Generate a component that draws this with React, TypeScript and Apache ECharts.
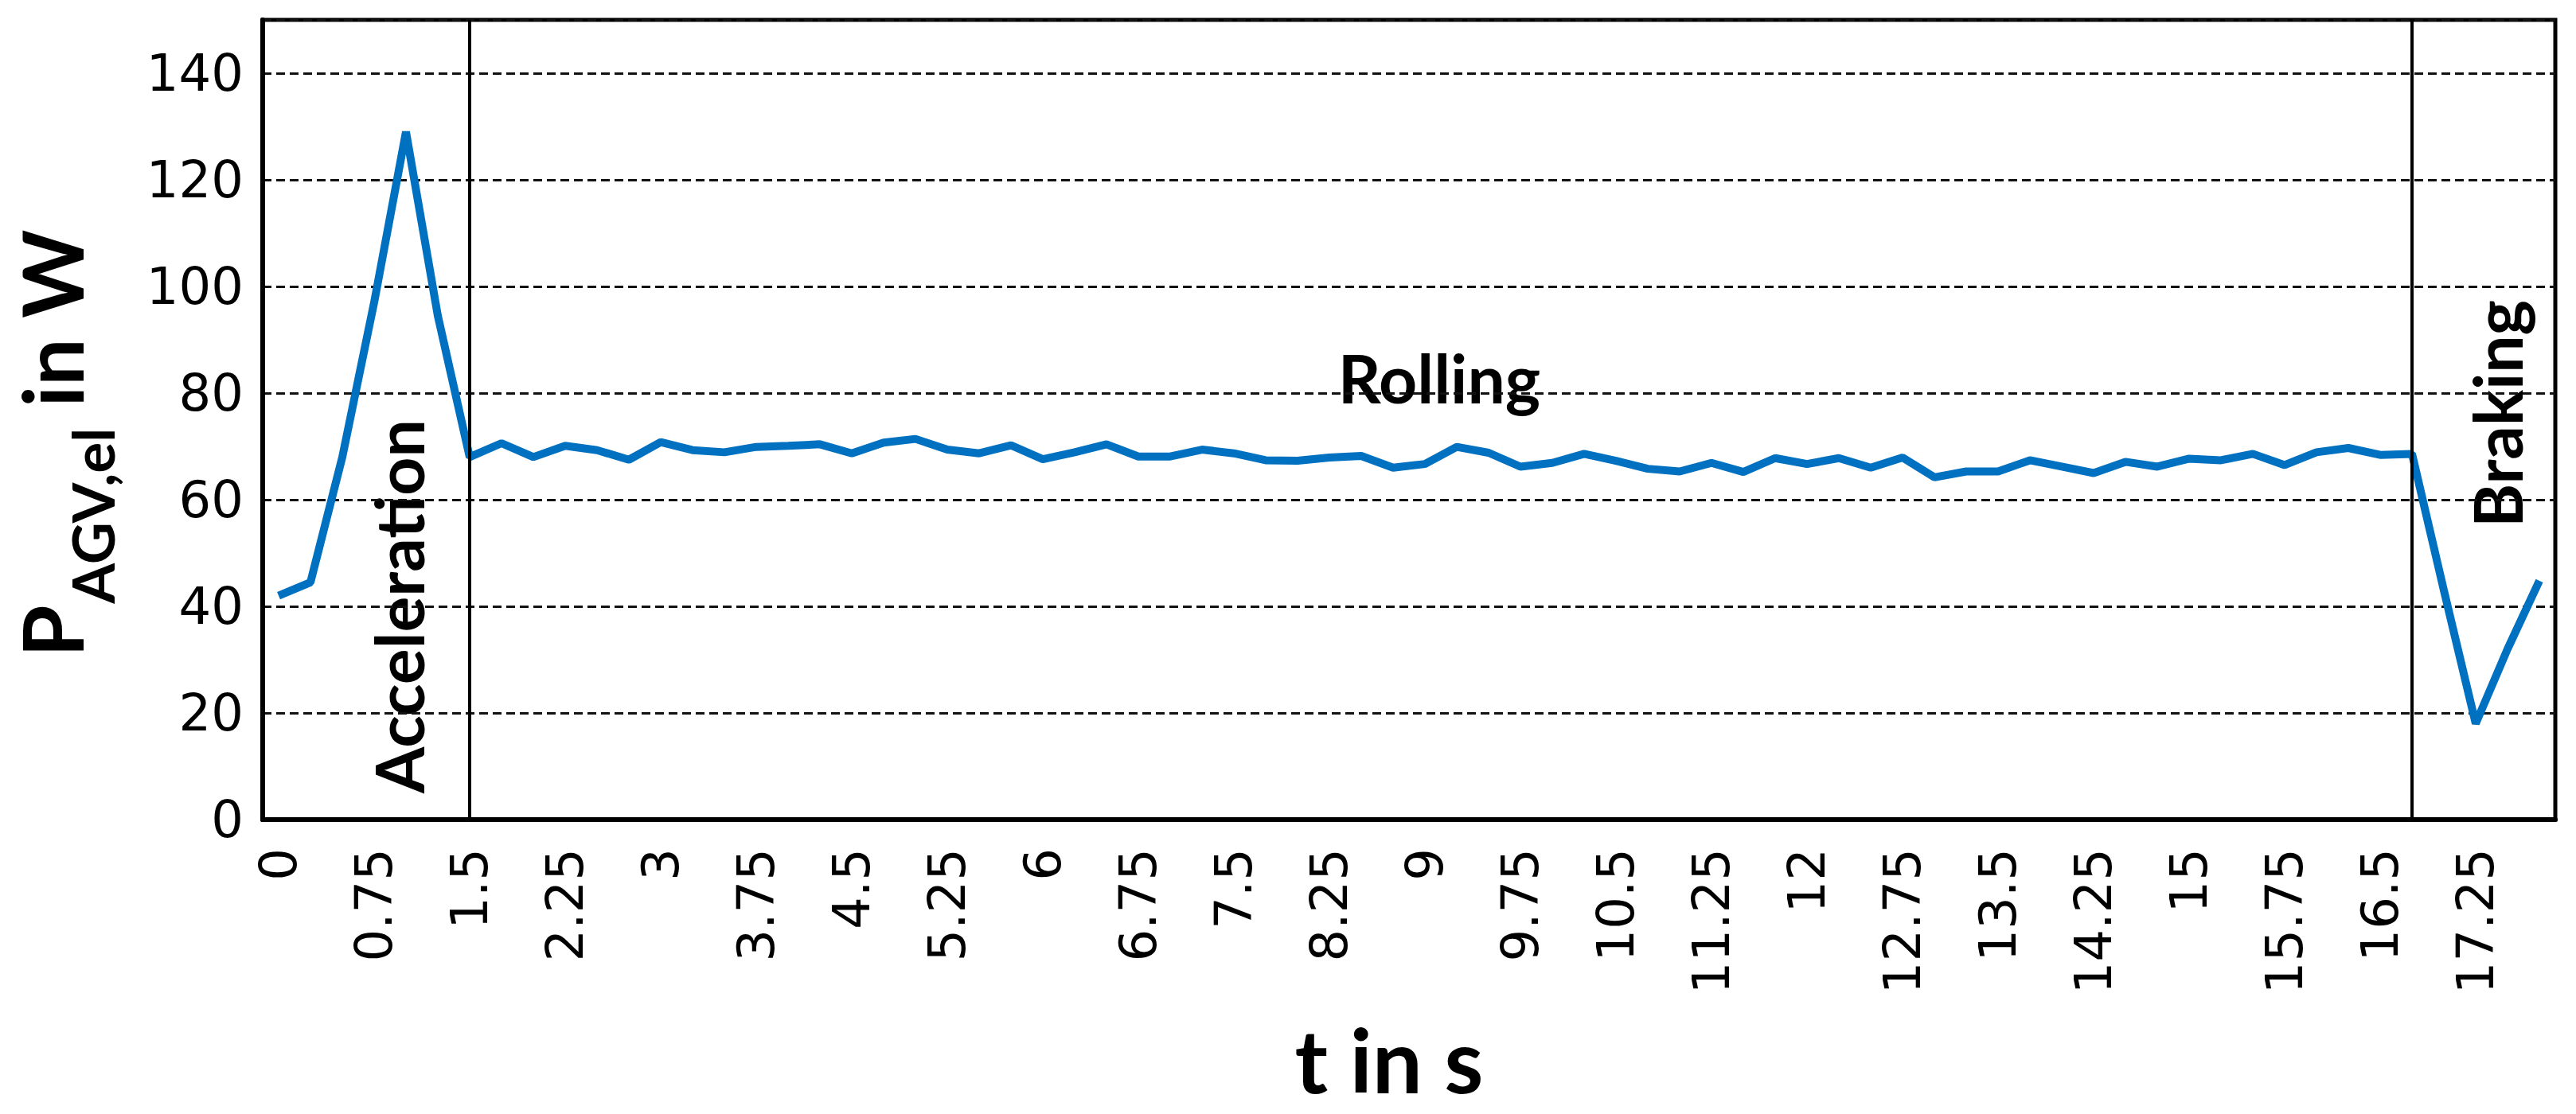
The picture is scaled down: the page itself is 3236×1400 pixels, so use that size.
import React, { useEffect, useRef } from 'react';
import * as echarts from 'echarts';

// time stamps (s) – category axis
const times = [
  '0', '0.25', '0.5', '0.75', '1', '1.25', '1.5', '1.75', '2', '2.25', '2.5', '2.75',
  '3', '3.25', '3.5', '3.75', '4', '4.25', '4.5', '4.75', '5', '5.25', '5.5', '5.75',
  '6', '6.25', '6.5', '6.75', '7', '7.25', '7.5', '7.75', '8', '8.25', '8.5', '8.75',
  '9', '9.25', '9.5', '9.75', '10', '10.25', '10.5', '10.75', '11', '11.25', '11.5', '11.75',
  '12', '12.25', '12.5', '12.75', '13', '13.25', '13.5', '13.75', '14', '14.25', '14.5', '14.75',
  '15', '15.25', '15.5', '15.75', '16', '16.25', '16.5', '16.75', '17', '17.25', '17.5', '17.75',
];

// electrical power of the AGV (W)
const power = [
  42, 44.5, 68, 97, 129, 94.5, 68,
  70.6, 68, 70.1, 69.3, 67.5, 70.8, 69.3, 68.9, 69.9, 70.1,
  70.4, 68.7, 70.7, 71.4, 69.4, 68.7, 70.2, 67.6, 68.9, 70.4, 68.1, 68.1, 69.4, 68.7, 67.4,
  67.3, 67.9, 68.2, 66.0, 66.7, 69.9, 68.8, 66.2, 66.9, 68.6, 67.3, 65.8, 65.3, 66.9, 65.2,
  67.8, 66.7, 67.8, 66.0, 67.9, 64.2, 65.3, 65.3, 67.4, 66.2, 65.0, 67.1, 66.2, 67.7, 67.4,
  68.6, 66.5, 68.9, 69.7, 68.4, 68.6,
  43, 18, 32, 44.8,
];

// phase boundaries (category values) and phase names
const phaseBoundaries = ['1.5', '16.75'];
const phaseNames = ['Acceleration', 'Rolling', 'Braking'];

const yTicks = { min: 0, max: 150, interval: 20 };

const TITLE_FONT = 'Lato, "Open Sans", sans-serif';
const TICK_FONT = '"DejaVu Sans", Verdana, sans-serif';

function textWidth(text: string, font: string): number {
  const ctx = document.createElement('canvas').getContext('2d');
  if (!ctx) return text.length * 50;
  ctx.font = font;
  return ctx.measureText(text).width;
}

export default function App() {
  const ref = useRef<HTMLDivElement>(null);

  useEffect(() => {
    if (!ref.current) return;
    const chart = echarts.init(ref.current, undefined, { renderer: 'svg' });

    const mainFont = `bold 106px ${TITLE_FONT}`;
    const subFont = `bold 73px ${TITLE_FONT}`;
    const wP = textWidth('P', mainFont);
    const wSub = textWidth('AGV,el', subFont);

    const txt = (text: string, font: string, x: number, y: number, extra: any = {}) => ({
      type: 'text',
      x,
      y,
      ...extra,
      style: {
        text,
        font,
        fill: '#000',
        align: 'center',
        textAlign: 'center',
        verticalAlign: 'middle',
        textVerticalAlign: 'middle',
        ...(extra.style || {}),
      },
    });

    const annFont = `bold 84px ${TITLE_FONT}`;

    chart.setOption({
      animation: false,
      backgroundColor: '#fff',
      grid: {
        left: 330,
        right: 26,
        top: 25,
        bottom: 370,
        show: true,
        borderColor: '#000',
        borderWidth: 5,
        outerBoundsMode: 'none',
      },
      xAxis: {
        type: 'category',
        data: times,
        boundaryGap: true,
        name: 't in s',
        nameLocation: 'middle',
        nameGap: 250,
        nameTextStyle: {
          fontFamily: TITLE_FONT,
          fontWeight: 'bold',
          fontSize: 112,
          lineHeight: 100,
          color: '#000',
          padding: [0, 50, 0, 0],
        },
        axisLine: { show: true, lineStyle: { color: '#000', width: 6 } },
        axisTick: { show: false },
        axisLabel: {
          interval: 2,
          rotate: 90,
          margin: 36,
          fontFamily: TICK_FONT,
          fontSize: 64,
          color: '#000',
        },
        splitLine: { show: false },
      },
      yAxis: {
        type: 'value',
        min: yTicks.min,
        max: yTicks.max,
        interval: yTicks.interval,
        axisLine: { show: true, lineStyle: { color: '#000', width: 6 } },
        axisTick: { show: false },
        axisLabel: {
          showMaxLabel: false,
          margin: 24,
          fontFamily: TICK_FONT,
          fontSize: 64,
          color: '#000',
        },
        splitLine: {
          show: true,
          lineStyle: { color: '#111', width: 3, type: [11, 6] },
        },
      },
      series: [
        {
          type: 'line',
          data: power,
          symbol: 'none',
          showSymbol: false,
          lineStyle: { color: '#0070C0', width: 10 },
          itemStyle: { color: '#0070C0' },
          markLine: {
            silent: true,
            symbol: ['none', 'none'],
            label: { show: false },
            lineStyle: { color: '#000', width: 4, type: 'solid' },
            data: phaseBoundaries.map((b) => ({ xAxis: b })),
          },
        },
      ],
      graphic: [
        // y-axis title with subscript
        {
          type: 'group',
          x: 102,
          y: 826,
          rotation: Math.PI / 2,
          children: [
            txt('P', mainFont, 0, -38, { style: { align: 'left', textAlign: 'left' } }),
            txt('AGV,el', subFont, wP + 2, 14, { style: { align: 'left', textAlign: 'left' } }),
            txt(' in W', mainFont, wP + wSub + 2, -38, { style: { align: 'left', textAlign: 'left' } }),
          ],
        },
        // phase annotations
        txt(phaseNames[0], annFont, 500, 762, { rotation: Math.PI / 2 }),
        txt(phaseNames[1], annFont, 1808, 474),
        txt(phaseNames[2], annFont, 3136, 520, { rotation: Math.PI / 2 }),
      ],
    });

    return () => chart.dispose();
  }, []);

  return (
    <div
      ref={ref}
      style={{ position: 'fixed', left: 0, top: 0, width: 3236, height: 1400, background: '#fff' }}
    />
  );
}
